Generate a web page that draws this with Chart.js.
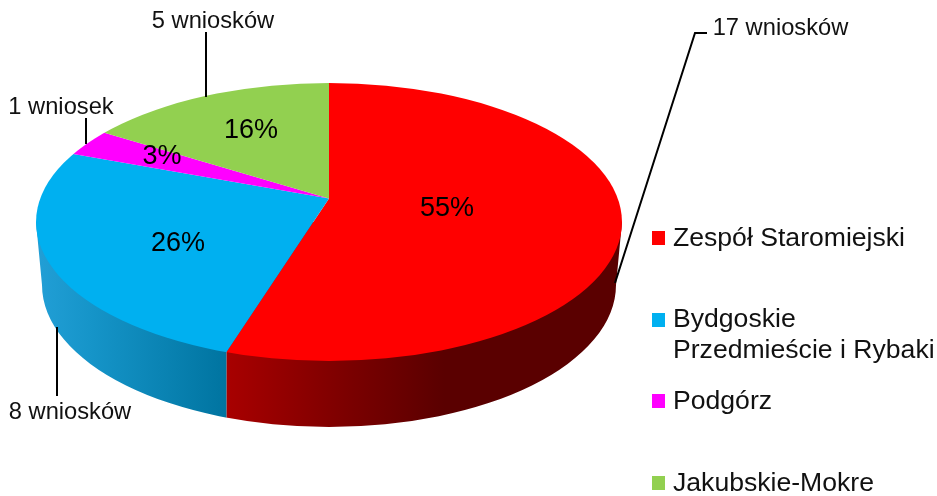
<!DOCTYPE html>
<html><head><meta charset="utf-8">
<style>html,body{margin:0;padding:0;background:#fff}canvas{display:block}</style>
<script src="https://cdn.jsdelivr.net/npm/chart.js@4"></script>
</head><body><canvas id="c" width="937" height="496"></canvas>
<script>
const categories = ["Zespół Staromiejski", "Bydgoskie\nPrzedmieście i Rybaki", "Podgórz", "Jakubskie-Mokre"];
const requests = [17, 8, 1, 5];
const percentLabels = ["55%", "26%", "3%", "16%"];
const countLabels = ["17 wniosków", "8 wniosków", "1 wniosek", "5 wniosków"];
const sliceColors = ["#ff0000", "#00b0f0", "#ff00ff", "#92d050"];

const FONT = '"Liberation Sans", Arial, sans-serif';
const top3d = {cx: 329, cy: 222, rx: 293, ry: 139};
const bottom3d = {cx: 329, cy: 285, rx: 287, ry: 142};
const apex = {x: 329, y: 198.5};
const scaleX = 1.55, scaleY = 1.55 * 0.47;

const percentPos = [[447, 209], [178, 244], [162, 157], [251, 131]];
const countPos = [[780.5, 28], [70, 412], [61, 107], [213, 21]];
const leaders = [
  [[707, 33], [695, 33], [615, 283]],
  [[57, 327], [57, 396]],
  [[86, 118], [86, 144]],
  [[206, 32], [206, 97]]
];
const legendBoxes = [231, 313, 394, 476];
const legendText = [[239], [320, 351], [402], [484]];

function splitX(angle) {
  // where a slice edge leaving the apex meets the top ellipse
  const dx = Math.cos(angle) * scaleX, dy = Math.sin(angle) * scaleY;
  const ax = apex.x - top3d.cx, ay = apex.y - top3d.cy;
  const A = dx * dx / (top3d.rx * top3d.rx) + dy * dy / (top3d.ry * top3d.ry);
  const B = 2 * (ax * dx / (top3d.rx * top3d.rx) + ay * dy / (top3d.ry * top3d.ry));
  const C = ax * ax / (top3d.rx * top3d.rx) + ay * ay / (top3d.ry * top3d.ry) - 1;
  const t = (-B + Math.sqrt(B * B - 4 * A * C)) / (2 * A);
  return apex.x + t * dx;
}

function sidePath(ctx) {
  ctx.beginPath();
  ctx.moveTo(top3d.cx - top3d.rx, top3d.cy);
  ctx.lineTo(bottom3d.cx - bottom3d.rx, bottom3d.cy);
  ctx.ellipse(bottom3d.cx, bottom3d.cy, bottom3d.rx, bottom3d.ry, 0, Math.PI, 0, true);
  ctx.lineTo(top3d.cx + top3d.rx, top3d.cy);
  ctx.closePath();
}

const pie3d = {
  id: 'pie3d',
  beforeDatasetsDraw(chart) {
    const ctx = chart.ctx, arc = chart.getDatasetMeta(0).data[0];
    const sx = splitX(arc.endAngle);

    const red = ctx.createLinearGradient(sx, 0, 622, 0);
    red.addColorStop(0, '#a80000');
    red.addColorStop(0.3, '#7c0000');
    red.addColorStop(0.55, '#5a0000');
    red.addColorStop(1, '#5a0000');
    const blue = ctx.createLinearGradient(36, 0, sx, 0);
    blue.addColorStop(0, '#229fd6');
    blue.addColorStop(0.3, '#1594c8');
    blue.addColorStop(1, '#0074a0');

    [[sx, 640, red], [0, sx, blue]].forEach(([x0, x1, fill]) => {
      ctx.save();
      ctx.beginPath();
      ctx.rect(x0, 0, x1 - x0, 496);
      ctx.clip();
      sidePath(ctx);
      ctx.fillStyle = fill;
      ctx.fill();
      ctx.restore();
    });

    ctx.save();
    ctx.beginPath();
    ctx.ellipse(top3d.cx, top3d.cy, top3d.rx, top3d.ry, 0, 0, Math.PI * 2);
    ctx.clip();
    const px = arc.x, py = arc.y;
    ctx.transform(scaleX, 0, 0, scaleY, apex.x - px * scaleX, apex.y - py * scaleY);
  },
  afterDatasetsDraw(chart) {
    const ctx = chart.ctx;
    ctx.restore();

    ctx.strokeStyle = '#000';
    ctx.lineWidth = 2;
    leaders.forEach(pts => {
      ctx.beginPath();
      pts.forEach((p, i) => i ? ctx.lineTo(p[0], p[1]) : ctx.moveTo(p[0], p[1]));
      ctx.stroke();
    });

    ctx.textBaseline = 'middle';
    ctx.textAlign = 'center';
    ctx.fillStyle = '#000';
    ctx.font = '27px ' + FONT;
    percentLabels.forEach((t, i) => ctx.fillText(t, percentPos[i][0], percentPos[i][1]));
    ctx.fillStyle = '#111';
    ctx.font = '23.7px ' + FONT;
    countLabels.forEach((t, i) => ctx.fillText(t, countPos[i][0], countPos[i][1]));

    ctx.textAlign = 'left';
    ctx.font = '26.6px ' + FONT;
    categories.forEach((name, i) => {
      ctx.fillStyle = sliceColors[i];
      ctx.fillRect(652, legendBoxes[i], 13, 14);
      ctx.fillStyle = '#111';
      name.split('\n').forEach((line, j) => ctx.fillText(line, 673, legendText[i][j]));
    });
  }
};

new Chart(document.getElementById('c'), {
  type: 'pie',
  data: {
    labels: categories,
    datasets: [{data: requests, backgroundColor: sliceColors, borderWidth: 0, clip: false}]
  },
  options: {
    responsive: false,
    animation: false,
    plugins: {legend: {display: false}, tooltip: {enabled: false}}
  },
  plugins: [pie3d]
});
</script></body></html>
